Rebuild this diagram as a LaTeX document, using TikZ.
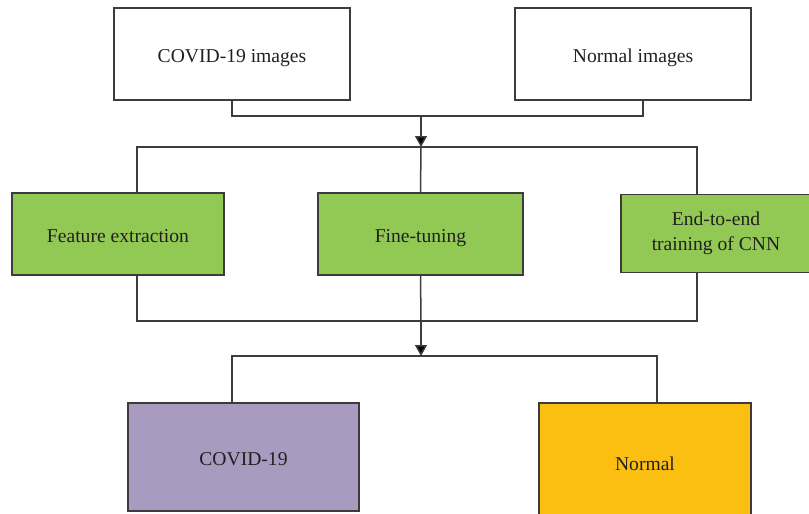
\documentclass[tikz,border=0pt]{standalone}
\usepackage{fontspec}
\setmainfont{Liberation Serif}
\usepackage{tikz}
\usetikzlibrary{arrows.meta,positioning,calc}
\definecolor{ink}{HTML}{231F20}
\definecolor{wire}{HTML}{3C3C3C}
\definecolor{leaf}{HTML}{92C955}
\definecolor{lilac}{HTML}{A99AC0}
\definecolor{gold}{HTML}{FBBF12}
\tikzset{
  box/.style={rectangle, draw=wire, fill=white, line width=0.6pt, align=center,
              inner sep=0pt, text=ink, font=\fontsize{9.8}{11.5}\selectfont},
  onerow/.style={text height=9pt, text depth=0.5pt},
  srcbox/.style={box, onerow, minimum width=118pt, minimum height=46pt},
  methbox/.style={box, fill=leaf, minimum height=41pt},
  clsbox/.style={box, onerow},
  link/.style={draw=wire, line width=0.75pt},
  flow/.style={link, -{Triangle[length=5.5pt, width=6pt, fill=black]}}
}
\begin{document}
\begin{tikzpicture}[x=0.5pt, y=-0.5pt]
\useasboundingbox (0,0) rectangle (809,514);
% input images
\node[srcbox] (imgcovid) at (232,54) {COVID-19 images};
\node[srcbox] (imgnormal) at (633,54) {Normal images};
% transfer learning methods
\node[methbox, onerow, minimum width=106pt] (featext) at (118,234) {Feature extraction};
\node[methbox, onerow, minimum width=102.5pt] (finetune) at (420.5,234) {Fine-tuning};
\node[methbox, minimum width=95pt, minimum height=39pt] (endtoend) at (716,233.5) {End-to-end\\[1pt]training of CNN};
% classes
\node[clsbox, fill=lilac, minimum width=115.5pt, minimum height=54pt] (clscovid) at (243.5,457) {COVID-19};
\node[clsbox, fill=gold, minimum width=106pt, minimum height=59pt] (clsnormal) at (645,462) {Normal};
\coordinate (join) at (421,116);
\coordinate (fork) at (421,147);
\coordinate (gather) at (421,321);
\coordinate (spread) at (421,356);
% connectors
\draw[link] (imgcovid.south) |- (join) -| ([xshift=5pt]imgnormal.south);
\draw[flow] (join) -- (fork);
\draw[link] ([xshift=9.5pt]featext.north) |- (fork) -| ([xshift=-9.5pt]endtoend.north);
\draw[link] (fork) -- (finetune.north);
\draw[link] ([xshift=9.5pt]featext.south) |- (gather) -| ([xshift=-9.5pt]endtoend.south);
\draw[link] (finetune.south) -- (gather);
\draw[flow] (gather) -- (spread);
\draw[link] ([xshift=-5.75pt]clscovid.north) |- (spread) -| ([xshift=6pt]clsnormal.north);
\end{tikzpicture}
\end{document}
